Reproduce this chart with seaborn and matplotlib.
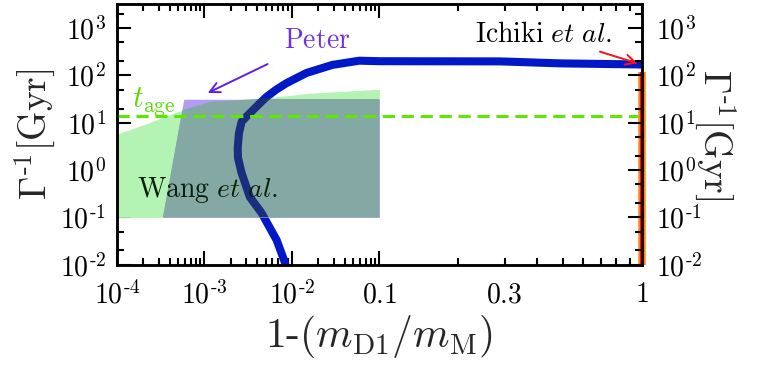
import numpy as np
import matplotlib
matplotlib.use("Agg")
import matplotlib.pyplot as plt
import seaborn as sns
from matplotlib.ticker import FixedLocator, FuncFormatter, LogLocator, NullFormatter

# ------------------------------
# Data
# ------------------------------
# lifetime curve (not monotone in x: goes left, then right)
mass_split = [8.5e-3, 6.7e-3, 4.5e-3, 3.3e-3, 2.66e-3, 2.42e-3, 2.4e-3, 2.48e-3, 2.66e-3, 3.0e-3,
              3.9e-3, 5.1e-3, 6.6e-3, 8.7e-3, 1.47e-2, 2.9e-2, 5.9e-2, 0.1, 0.29, 0.49, 0.96, 1.0]
lifetime = [0.01, 0.033, 0.124, 0.27, 0.87, 1.8, 2.9, 6.0, 10.5, 13.3,
            21.6, 35.0, 50.0, 69.0, 113.0, 167.0, 205.0, 200.0, 198.0, 180.0, 171.0, 170.0]

# Wang et al. band
wang_x = [1e-4, 2.0e-4, 4.8e-4, 1.15e-3, 3.6e-3, 1.6e-2, 0.1]
wang_top = [5.8, 9.0, 16.9, 27.5, 31.4, 42.0, 51.0]
wang_bottom = 0.1

# Peter band
peter_x = [3.3e-4, 5.8e-4, 0.1]
peter_top = [0.1, 31.4, 31.4]
peter_bottom = 0.1

t_age = 13.8
ichiki_x = 1.0
ichiki_range = [0.01, 120.0]

x_major = [1e-4, 1e-3, 1e-2, 0.1, 1.0]
x_major_labels = [r"$10^{\text{-}4}$", r"$10^{\text{-}3}$", r"$10^{\text{-}2}$", r"$0.1$", r"$1$"]
x_minor = [k * 10.0**n for n in (-4, -3, -2) for k in range(2, 10)] + [k / 10 for k in range(2, 10)]

# ------------------------------
# Style
# ------------------------------
sns.set_style("ticks")
plt.rcParams["mathtext.fontset"] = "cm"
plt.rcParams["font.family"] = ["DejaVu Serif"]


# piecewise log axis: the decade above 0.1 is stretched three times
def fwd(x):
    x = np.asarray(x, dtype=float)
    with np.errstate(divide="ignore", invalid="ignore"):
        u = np.log10(np.clip(x, 1e-300, None))
    return np.where(u <= -1, u, -1 + 3 * (u + 1))


def inv(v):
    v = np.asarray(v, dtype=float)
    return np.where(v <= -1, 10.0**v, 10.0**(-1 + (v + 1) / 3))


fig = plt.figure(figsize=(7.65, 3.75), dpi=100)
ax = fig.add_axes([117 / 765, 1 - 264.7 / 375, (641.7 - 117) / 765, (264.7 - 4) / 375])
ax.set_xscale("function", functions=(fwd, inv))
ax.set_yscale("log")
ax.set_xlim(1e-4, 1.0)
ax.set_ylim(1e-2, 10**3.51)

# bands
wang = ax.fill_between(wang_x, wang_bottom, wang_top, color="#b3f3b3", lw=0, zorder=2)
wang_path = wang.get_paths()[0]
ax.fill_between(peter_x, peter_bottom, peter_top, color="#b49bf4", lw=0, zorder=3)
overlap = ax.fill_between(peter_x, peter_bottom, peter_top, color="#84a8a4", lw=0, zorder=4)
overlap.set_clip_path(wang_path, ax.transData)

# lifetime curve
sns.lineplot(x=mass_split, y=lifetime, sort=False, estimator=None, color="#0018c8",
             lw=5.8, solid_capstyle="butt", solid_joinstyle="round", ax=ax, zorder=1.5)
shade = ax.plot(mass_split, lifetime, color="#1a2e80", lw=5.8, solid_capstyle="butt",
                solid_joinstyle="round", zorder=5)[0]
shade.set_clip_path(wang_path, ax.transData)

# age of universe
ax.axhline(t_age, color="#5ee800", lw=2.2, dashes=(4, 2.2), zorder=6)
ax.text(1.5e-4, 28, r"$t_{\rm age}$", color="#55dd00", fontsize=22, va="center", ha="left", zorder=7)

# Ichiki et al. bound
ax.vlines(ichiki_x, *ichiki_range, color="#ff9020", lw=5.5, zorder=8, clip_on=False)
ax.vlines(ichiki_x, *ichiki_range, color="#f01010", lw=3, zorder=9, clip_on=False)

# annotations
ax.annotate(r"$\mathrm{Peter}$", xy=(1.09e-3, 42.7), xytext=(0.0196, 560),
            color="#7030e0", fontsize=20, ha="center", va="center", zorder=7,
            arrowprops=dict(arrowstyle="->", color="#6020e0", lw=1.4,
                            shrinkA=12, shrinkB=0, mutation_scale=18))
ax.annotate(r"$\mathrm{Ichiki}\ et\ al.$", xy=(0.965, 180), xytext=(0.77, 750),
            color="black", fontsize=20, ha="right", va="center", zorder=7,
            arrowprops=dict(arrowstyle="->", color="#ff1010", lw=1.4,
                            shrinkA=2, shrinkB=0, mutation_scale=18))
ax.text(1.69e-4, 0.38, r"$\mathrm{Wang}\ et\ al.$", color="#0a1e0a", fontsize=20,
        ha="left", va="center", zorder=7)

# x axis
ax.xaxis.set_major_locator(FixedLocator(x_major))
ax.xaxis.set_major_formatter(FuncFormatter(lambda v, p: x_major_labels[p] if p is not None and p < len(x_major_labels) else ""))
ax.xaxis.set_minor_locator(FixedLocator(x_minor))
ax.xaxis.set_minor_formatter(FuncFormatter(lambda v, p: r"$0.3$" if abs(v - 0.3) < 1e-9 else ""))

# y axis
ylab = lambda v, p: r"$10^{%d}$" % round(np.log10(v)) if v >= 1 else r"$10^{\text{-}%d}$" % round(-np.log10(v))
ax.yaxis.set_major_locator(LogLocator(base=10, numticks=10))
ax.yaxis.set_major_formatter(FuncFormatter(ylab))
ax.yaxis.set_minor_locator(LogLocator(base=10, subs=(2, 5), numticks=10))
ax.yaxis.set_minor_formatter(NullFormatter())

ax2 = ax.twinx()
ax2.set_yscale("log")
ax2.set_ylim(ax.get_ylim())
ax2.yaxis.set_major_locator(LogLocator(base=10, numticks=10))
ax2.yaxis.set_major_formatter(FuncFormatter(ylab))
ax2.yaxis.set_minor_locator(LogLocator(base=10, subs=(2, 5), numticks=10))
ax2.yaxis.set_minor_formatter(NullFormatter())

for a in (ax, ax2):
    for s in a.spines.values():
        s.set_linewidth(1.8)
        s.set_color("black")
ax.tick_params(which="both", direction="in", top=True, right=False, width=1.5, colors="black")
ax.tick_params(which="major", length=10)
ax.tick_params(which="minor", length=5)
ax.tick_params(axis="x", which="both", labelsize=20, pad=12)
ax.tick_params(axis="y", which="both", labelsize=20, pad=8)
ax2.tick_params(which="both", direction="in", width=1.5, colors="black", labelsize=20, pad=10)
ax2.tick_params(which="major", length=10)
ax2.tick_params(which="minor", length=5)

ax.set_xlabel(r"$\text{1-}(m_{\rm D1}/m_{\rm M})$", fontsize=30, labelpad=2)
ax.set_ylabel(r"$\Gamma^{\text{-}1}[\rm Gyr]$", fontsize=27, labelpad=2)
ax2.set_ylabel(r"$\Gamma^{\text{-}1}[\rm Gyr]$", fontsize=27, rotation=-90, labelpad=26)

fig.savefig("out.png", dpi=100)
